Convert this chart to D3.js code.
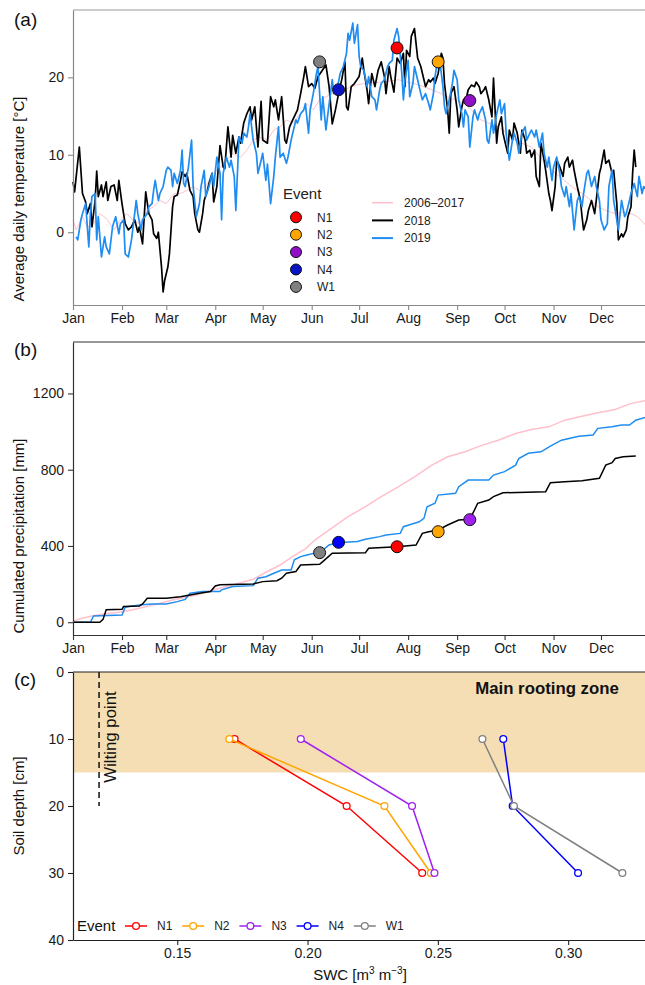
<!DOCTYPE html>
<html>
<head>
<meta charset="utf-8">
<script src="https://cdn.jsdelivr.net/npm/d3@7"></script>
<style>
  html, body { margin: 0; padding: 0; background: #fff; }
  #chart { width: 645px; height: 985px; }
</style>
</head>
<body>
<div id="chart"></div>
<script>
// --- Données ---
const monthStarts = [0, 31, 59, 90, 120, 151, 181, 212, 243, 273, 304, 334];
const monthLabels = ['Jan', 'Feb', 'Mar', 'Apr', 'May', 'Jun', 'Jul', 'Aug', 'Sep', 'Oct', 'Nov', 'Dec'];

// (a) température moyenne journalière [jour de l'année, °C]
const tempClim = [[0,1.6],[2,0.3],[6,2.0],[9,0.7],[13,1.1],[17,2.4],[21,1.8],[26,0.3],[30,1.6],[34,2.4],[38,1.6],[42,1.1],[47,2.8],[51,3.3],[55,4.1],[59,3.7],[64,5.0],[68,5.0],[72,5.4],[76,5.9],[80,5.4],[85,6.3],[89,7.6],[93,8.4],[97,9.3],[101,10.2],[106,9.7],[110,10.6],[114,11.9],[118,12.3],[123,11.9],[127,13.2],[131,13.6],[135,14.5],[139,14.1],[144,15.3],[148,16.6],[152,15.8],[156,17.1],[160,17.5],[164,17.9],[169,18.2],[174,18.6],[179,19.0],[184,19.2],[190,19.3],[195,19.4],[200,19.5],[206,19.7],[211,19.4],[216,19.2],[222,18.8],[227,18.4],[232,18.0],[237,17.5],[243,17.0],[248,16.6],[252,15.8],[258,14.5],[264,14.0],[269,13.6],[275,12.8],[280,11.9],[285,11.4],[290,11.0],[295,9.8],[301,8.4],[306,7.5],[311,6.7],[316,5.8],[322,5.0],[327,4.2],[332,3.3],[337,2.8],[343,2.4],[348,2.6],[353,2.4],[357,2.0],[361,1.2],[365,0.3]];

const temp2018 = [[0,6.5],[1,5.2],[4,11.0],[6,5.0],[8,3.9],[9,2.4],[11,3.7],[12,0.7],[14,4.1],[15,7.9],[16,4.6],[18,6.1],[19,4.6],[21,6.5],[22,4.1],[24,5.9],[26,6.1],[28,4.1],[29,6.7],[31,3.7],[33,1.1],[35,0.3],[37,0.7],[39,1.6],[41,0.0],[42,0.7],[44,-1.5],[46,5.2],[48,2.4],[50,1.6],[51,-0.2],[53,-0.8],[54,0.0],[56,-4.5],[57,-7.7],[58,-6.2],[60,-4.5],[61,-2.8],[63,3.3],[64,4.6],[66,4.8],[68,6.7],[69,7.8],[71,7.2],[72,7.6],[74,5.4],[76,4.6],[77,2.4],[79,0.3],[80,0.0],[82,2.4],[83,4.1],[85,5.4],[86,6.3],[88,7.6],[89,3.9],[91,5.9],[93,11.2],[95,8.4],[96,8.2],[98,13.6],[100,9.7],[101,12.5],[103,10.2],[105,12.3],[106,11.5],[108,14.1],[110,15.3],[112,16.2],[113,14.5],[115,16.2],[117,11.0],[119,16.9],[120,11.9],[123,11.5],[125,17.5],[127,16.2],[128,17.1],[130,14.5],[132,17.5],[134,11.9],[135,11.5],[137,13.6],[139,14.5],[142,15.8],[144,17.9],[146,20.1],[147,21.4],[149,18.8],[151,19.2],[153,18.6],[155,20.1],[157,20.7],[160,21.6],[162,18.8],[164,14.0],[166,15.8],[168,17.9],[170,19.7],[172,22.0],[173,16.2],[174,15.8],[176,18.8],[178,19.2],[181,20.1],[183,22.5],[184,20.9],[186,18.4],[187,16.6],[189,20.5],[191,18.8],[193,20.9],[195,22.0],[197,20.1],[198,17.9],[200,21.4],[201,20.1],[203,18.1],[205,22.5],[207,21.8],[209,23.1],[210,18.8],[211,23.5],[213,22.7],[214,25.3],[216,26.3],[217,24.4],[218,22.5],[220,21.4],[222,19.7],[223,18.8],[225,19.7],[226,19.4],[228,19.9],[229,19.2],[231,20.5],[233,23.1],[234,22.5],[235,19.2],[237,15.8],[238,12.8],[239,17.9],[241,18.8],[243,15.8],[244,13.6],[246,16.2],[247,17.1],[249,17.5],[250,18.4],[252,19.0],[254,18.8],[255,19.4],[257,18.8],[258,17.9],[260,18.4],[261,18.8],[263,17.1],[265,14.9],[266,19.9],[267,15.8],[268,11.5],[269,13.6],[271,14.9],[272,12.8],[273,11.9],[275,10.2],[276,13.2],[278,11.9],[279,14.1],[281,12.8],[283,10.2],[284,13.2],[286,11.9],[287,10.2],[289,10.6],[290,9.7],[292,10.6],[293,7.2],[295,5.9],[296,11.5],[298,9.3],[299,8.0],[301,5.0],[302,4.1],[303,2.8],[305,5.9],[306,9.3],[308,8.4],[310,7.2],[311,8.9],[313,9.7],[314,8.4],[316,9.3],[317,8.0],[319,5.9],[321,4.1],[322,2.0],[323,0.3],[325,1.6],[326,2.8],[328,4.1],[330,2.4],[331,4.1],[333,7.6],[334,8.4],[336,10.6],[337,8.9],[339,9.3],[341,7.6],[342,8.0],[344,3.7],[345,-1.0],[347,-0.2],[348,-0.6],[350,0.3],[351,2.0],[353,3.3],[354,7.6],[355,10.6],[356,8.4]];

const temp2019 = [[2,-0.6],[3,-1.0],[5,1.6],[6,2.4],[8,3.7],[10,-1.9],[11,2.4],[12,4.6],[14,5.0],[15,-1.0],[16,2.0],[18,-3.2],[20,-0.6],[21,-1.9],[23,-2.8],[25,0.7],[27,2.0],[29,-0.2],[30,1.1],[32,1.6],[33,-2.8],[35,-3.2],[37,-1.0],[38,0.7],[40,4.1],[41,2.4],[43,0.3],[44,1.6],[47,2.4],[48,3.3],[50,3.7],[51,5.4],[52,6.7],[54,4.1],[55,5.0],[57,5.9],[59,8.0],[60,8.4],[62,8.0],[63,5.9],[64,7.6],[66,6.3],[68,8.0],[69,10.6],[70,6.3],[71,5.9],[73,8.4],[75,11.9],[76,5.9],[78,2.0],[80,3.7],[81,5.9],[83,8.0],[84,4.6],[86,5.9],[88,7.6],[89,5.9],[91,9.7],[93,7.6],[94,1.6],[95,7.6],[97,9.7],[99,8.4],[100,9.3],[102,7.2],[103,2.8],[105,12.3],[107,11.5],[108,12.8],[110,12.3],[111,13.6],[112,15.3],[114,11.9],[116,10.2],[117,7.6],[119,9.3],[120,10.2],[122,6.7],[123,8.8],[125,3.7],[127,7.2],[128,9.7],[130,13.6],[131,9.7],[133,10.2],[135,8.9],[136,9.7],[138,11.9],[139,12.8],[141,14.5],[142,14.1],[144,15.3],[146,15.8],[147,16.6],[149,12.8],[150,15.8],[152,17.9],[154,20.5],[155,21.4],[157,14.5],[158,17.5],[160,13.2],[161,14.9],[164,19.7],[165,17.9],[167,18.4],[169,20.5],[171,21.4],[173,23.1],[174,25.7],[175,24.8],[177,27.0],[178,24.4],[180,26.8],[181,22.7],[182,21.4],[184,20.9],[186,18.8],[187,20.1],[189,17.5],[191,17.1],[192,15.8],[194,18.4],[195,19.2],[197,19.7],[199,21.4],[200,21.8],[202,22.2],[203,24.8],[205,26.3],[206,25.3],[208,20.5],[209,17.1],[210,19.7],[212,22.2],[213,17.5],[215,19.2],[216,21.4],[218,19.7],[220,17.9],[221,17.1],[223,17.9],[225,16.6],[226,15.8],[228,17.9],[229,20.1],[230,21.4],[232,22.2],[234,18.8],[235,16.2],[236,15.3],[238,17.1],[240,19.2],[241,20.9],[243,19.7],[244,17.1],[246,15.3],[247,13.6],[248,15.8],[250,14.9],[251,11.0],[253,14.9],[254,15.8],[256,14.5],[257,15.3],[259,16.2],[261,14.5],[262,11.9],[263,11.5],[265,14.5],[266,12.8],[268,15.3],[270,17.1],[271,15.3],[273,16.6],[274,12.8],[276,9.3],[278,11.9],[279,12.8],[281,11.5],[282,10.2],[284,12.8],[286,13.6],[287,11.9],[289,12.8],[290,13.2],[292,12.3],[293,13.2],[295,11.0],[297,12.8],[298,10.2],[300,8.4],[301,9.7],[303,6.7],[304,8.4],[306,9.7],[308,7.6],[309,5.9],[311,4.6],[312,5.9],[314,3.3],[315,5.0],[317,0.3],[319,4.1],[320,4.6],[322,3.3],[323,5.0],[325,7.6],[326,8.0],[328,5.9],[330,7.2],[331,5.9],[333,4.1],[334,1.6],[336,0.3],[338,1.1],[339,5.9],[341,8.0],[342,4.1],[344,1.6],[345,0.3],[347,4.1],[349,2.0],[350,2.4],[352,4.1],[353,5.0],[355,6.3],[357,4.6],[358,7.2],[360,5.0],[361,5.9],[363,5.4],[365,3.5]];

// (b) précipitations cumulées [jour, mm]
const precipClim = [[0,5],[5,20],[12,33],[20,45],[27,50],[38,65],[51,91],[63,117],[78,143],[89,170],[101,196],[114,225],[122,262],[131,300],[139,345],[147,385],[153,431],[163,490],[174,554],[185,606],[195,659],[206,711],[216,763],[227,824],[237,868],[248,894],[259,929],[269,955],[280,990],[290,1011],[301,1025],[311,1060],[322,1081],[332,1099],[343,1116],[353,1148],[362,1162],[365,1166]];

const precip2018 = [[0,0],[17,0],[19,15],[21,65],[31,68],[32,82],[42,85],[44,96],[47,126],[59,126],[68,134],[74,143],[80,152],[87,161],[90,190],[93,196],[114,201],[120,213],[129,218],[132,231],[135,257],[141,266],[144,300],[156,304],[158,318],[161,340],[164,362],[185,365],[187,388],[205,396],[217,405],[221,466],[225,475],[231,484],[237,510],[244,536],[251,540],[254,589],[256,624],[263,641],[266,659],[272,679],[299,685],[302,732],[311,737],[322,742],[333,755],[337,824],[341,837],[343,859],[348,868],[356,872]];

const precip2019 = [[0,0],[11,0],[13,33],[31,38],[33,79],[42,91],[50,96],[59,96],[66,108],[71,120],[74,152],[82,161],[93,161],[94,170],[101,187],[114,192],[117,231],[122,239],[127,257],[132,274],[138,274],[140,327],[144,344],[148,353],[154,365],[158,379],[162,405],[167,417],[180,424],[185,435],[194,449],[198,458],[207,466],[209,501],[214,514],[219,527],[222,545],[224,606],[229,624],[231,667],[242,676],[244,711],[250,746],[263,746],[266,772],[273,790],[280,824],[282,859],[288,886],[296,894],[302,924],[309,955],[320,976],[329,982],[332,1017],[341,1025],[347,1034],[352,1034],[356,1060],[362,1074],[365,1078]];

// Événements
const eventNames = ['N1', 'N2', 'N3', 'N4', 'W1'];
const eventDays = [205, 231, 251, 168, 156];
const eventTemp = [23.8, 22.0, 17.0, 18.4, 22.0];
const eventPrecip = [396, 475, 538, 419, 365];

// (c) profils d'humidité du sol
const swcDepths = [10, 20, 30];
const swcN1 = [0.172, 0.215, 0.244];
const swcN2 = [0.170, 0.2295, 0.2473];
const swcN3 = [0.1974, 0.2401, 0.2487];
const swcN4 = [0.2751, 0.2787, 0.3038];
const swcW1 = [0.2671, 0.2792, 0.3208];
const wiltingPoint = 0.12;
const rootingZone = 15;

const seriesNames = ['2006–2017', '2018', '2019'];

// --- Styles ---
const FONT = '"Liberation Sans", Arial, sans-serif';
const eventColorsTop = ['#ff0000', '#ffa500', '#9010c8', '#0a14c4', '#808080'];
const eventColors = ['#ff0000', '#ffa500', '#a020f0', '#0000ff', '#808080'];
const seriesColors = ['#ffc0cb', '#000000', '#1e8cf0'];

const W = 645, H = 985;
const xLeft = 73, xRight = 650;

const svg = d3.select('#chart').append('svg')
    .attr('width', W)
    .attr('height', H)
    .style('font-family', FONT);

const x = d3.scaleLinear().domain([0, 365]).range([xLeft, xRight]);

function monthAxis(g, y0, color) {
    g.attr('transform', `translate(0,${y0})`)
        .call(d3.axisBottom(x).tickValues(monthStarts)
            .tickFormat((d, i) => monthLabels[i])
            .tickSize(5).tickPadding(3).tickSizeOuter(0));
    styleAxis(g, color);
}

function styleAxis(g, color) {
    g.select('.domain').attr('stroke', color).attr('stroke-width', 1.2);
    g.selectAll('.tick line').attr('stroke', color).attr('stroke-width', 1.1);
    g.selectAll('.tick text').attr('fill', '#1a1a1a').style('font-size', '14px').style('font-family', FONT);
}

function panelLabel(txt, y) {
    svg.append('text').attr('x', 14).attr('y', y)
        .style('font-size', '19px').attr('fill', '#111').text(txt);
}

function yTitle(txt, cy) {
    svg.append('text')
        .attr('transform', `translate(24,${cy}) rotate(-90)`)
        .attr('text-anchor', 'middle')
        .style('font-size', '15px').attr('fill', '#111')
        .text(txt);
}

// ================= (a) Température =================
const aTop = 10, aBot = 305;
const yA = d3.scaleLinear().domain([-9.4, 28.7]).range([aBot, aTop]);
const lineA = d3.line().x(d => x(d[0])).y(d => yA(d[1]));

svg.append('line').attr('x1', xLeft).attr('x2', xRight).attr('y1', aTop).attr('y2', aTop)
    .attr('stroke', '#999').attr('stroke-width', 1.2);

[tempClim, temp2018, temp2019].forEach((s, i) => {
    svg.append('path').datum(s)
        .attr('fill', 'none')
        .attr('stroke', seriesColors[i])
        .attr('stroke-width', i === 0 ? 1 : 1.7)
        .attr('stroke-linejoin', 'round')
        .attr('d', lineA);
});

svg.append('g').call(g => monthAxis(g, aBot, '#888'));
svg.append('g').attr('transform', `translate(${xLeft},0)`)
    .call(d3.axisLeft(yA).tickValues([0, 10, 20]).tickSize(5).tickPadding(4).tickSizeOuter(0))
    .call(g => styleAxis(g, '#888'));

svg.selectAll('.evA').data(eventNames).join('circle')
    .attr('cx', (d, i) => x(eventDays[i]))
    .attr('cy', (d, i) => yA(eventTemp[i]))
    .attr('r', 6)
    .attr('fill', (d, i) => eventColorsTop[i])
    .attr('stroke', '#111').attr('stroke-width', 1);

// Légende événements
svg.append('text').attr('x', 283).attr('y', 199).style('font-size', '15px').attr('fill', '#222').text('Event');
const legA = svg.append('g');
eventNames.forEach((n, i) => {
    const cy = 217.3 + i * 17.4;
    legA.append('circle').attr('cx', 296).attr('cy', cy).attr('r', 5.5)
        .attr('fill', eventColorsTop[i]).attr('stroke', '#111').attr('stroke-width', 1);
    legA.append('text').attr('x', 317).attr('y', cy + 4.3)
        .style('font-size', '12px').attr('fill', '#222').text(n);
});

// Légende séries
seriesNames.forEach((n, i) => {
    const cy = 202.7 + i * 17.7;
    legA.append('line').attr('x1', 372).attr('x2', 393).attr('y1', cy).attr('y2', cy)
        .attr('stroke', seriesColors[i]).attr('stroke-width', i === 0 ? 1.6 : 2);
    legA.append('text').attr('x', 404).attr('y', cy + 4.3)
        .style('font-size', '12px').attr('fill', '#222').text(n);
});

panelLabel('(a)', 26);
yTitle('Average daily temperature [°C]', 199);

// ================= (b) Précipitations =================
const bTop = 342, bBot = 635;
const yB = d3.scaleLinear().domain([-67, 1470]).range([bBot, bTop]);
const lineB = d3.line().x(d => x(d[0])).y(d => yB(d[1]));

svg.append('line').attr('x1', xLeft).attr('x2', xRight).attr('y1', bTop).attr('y2', bTop)
    .attr('stroke', '#333').attr('stroke-width', 1.2);

[[precipClim, 0], [precip2019, 2], [precip2018, 1]].forEach(([s, i]) => {
    svg.append('path').datum(s)
        .attr('fill', 'none')
        .attr('stroke', seriesColors[i])
        .attr('stroke-width', 1.5)
        .attr('d', lineB);
});

svg.append('g').call(g => monthAxis(g, bBot, '#333'));
svg.append('g').attr('transform', `translate(${xLeft},0)`)
    .call(d3.axisLeft(yB).tickValues([0, 400, 800, 1200]).tickFormat(d3.format('d'))
        .tickSize(5).tickPadding(4).tickSizeOuter(0))
    .call(g => styleAxis(g, '#333'));

svg.selectAll('.evB').data(eventNames).join('circle')
    .attr('cx', (d, i) => x(eventDays[i]))
    .attr('cy', (d, i) => yB(eventPrecip[i]))
    .attr('r', 6)
    .attr('fill', (d, i) => eventColors[i])
    .attr('stroke', '#111').attr('stroke-width', 1);

panelLabel('(b)', 356);
yTitle('Cumulated precipitation [mm]', 536);

// ================= (c) Profils SWC =================
const cTop = 672, cBot = 940;
const xC = d3.scaleLinear().domain([0.11, 0.3314]).range([xLeft, xRight]);
const yC = d3.scaleLinear().domain([0, 40]).range([cTop, cBot]);

svg.append('rect')
    .attr('x', xLeft).attr('y', yC(0))
    .attr('width', xRight - xLeft).attr('height', yC(rootingZone) - yC(0))
    .attr('fill', '#f5deb3');

svg.append('text')
    .attr('x', 547).attr('y', 694)
    .attr('text-anchor', 'middle')
    .style('font-size', '16.8px').style('font-weight', '700').attr('fill', '#111')
    .text('Main rooting zone');

svg.append('line')
    .attr('x1', xC(wiltingPoint)).attr('x2', xC(wiltingPoint))
    .attr('y1', yC(0)).attr('y2', yC(20))
    .attr('stroke', '#111').attr('stroke-width', 1.5)
    .attr('stroke-dasharray', '6,4');

svg.append('text')
    .attr('transform', `translate(${xC(wiltingPoint) + 17},737) rotate(-90)`)
    .attr('text-anchor', 'middle')
    .style('font-size', '16.8px').attr('fill', '#111')
    .text('Wilting point');

svg.append('line').attr('x1', xLeft).attr('x2', xRight).attr('y1', cTop).attr('y2', cTop)
    .attr('stroke', '#222').attr('stroke-width', 1.2);

const profiles = [swcN1, swcN2, swcN3, swcN4, swcW1];
const lineC = d3.line().x(d => xC(d[0])).y(d => yC(d[1]));

profiles.forEach((p, i) => {
    const pts = p.map((v, j) => [v, swcDepths[j]]);
    svg.append('path').datum(pts)
        .attr('fill', 'none').attr('stroke', eventColors[i]).attr('stroke-width', 1.5)
        .attr('d', lineC);
    svg.append('g').selectAll('circle').data(pts).join('circle')
        .attr('cx', d => xC(d[0])).attr('cy', d => yC(d[1]))
        .attr('r', 3.4).attr('fill', '#fff')
        .attr('stroke', eventColors[i]).attr('stroke-width', 1.3);
});

svg.append('g').attr('transform', `translate(0,${cBot})`)
    .call(d3.axisBottom(xC).tickValues([0.15, 0.20, 0.25, 0.30]).tickFormat(d3.format('.2f'))
        .tickSize(5).tickPadding(3).tickSizeOuter(0))
    .call(g => styleAxis(g, '#222'));
svg.append('g').attr('transform', `translate(${xLeft},0)`)
    .call(d3.axisLeft(yC).tickValues([0, 10, 20, 30, 40]).tickSize(5).tickPadding(4).tickSizeOuter(0))
    .call(g => styleAxis(g, '#222'));

// Légende (c)
const legC = svg.append('g');
legC.append('text').attr('x', 77).attr('y', 931).style('font-size', '15px').attr('fill', '#111').text('Event');
eventNames.forEach((n, i) => {
    const x0 = 125 + i * 57.2;
    legC.append('line').attr('x1', x0).attr('x2', x0 + 22).attr('y1', 926).attr('y2', 926)
        .attr('stroke', eventColors[i]).attr('stroke-width', 1.5);
    legC.append('circle').attr('cx', x0 + 11).attr('cy', 926).attr('r', 3.4)
        .attr('fill', '#fff').attr('stroke', eventColors[i]).attr('stroke-width', 1.3);
    legC.append('text').attr('x', x0 + 32).attr('y', 930.2)
        .style('font-size', '12px').attr('fill', '#222').text(n);
});

// Titre de l'axe x avec exposants
const swcTitle = svg.append('text')
    .attr('x', 360).attr('y', 980)
    .attr('text-anchor', 'middle')
    .style('font-size', '15px').attr('fill', '#111');
swcTitle.append('tspan').text('SWC [m');
swcTitle.append('tspan').attr('dy', -6).style('font-size', '10px').text('3');
swcTitle.append('tspan').attr('dy', 6).text(' m');
swcTitle.append('tspan').attr('dy', -6).style('font-size', '10px').text('−3');
swcTitle.append('tspan').attr('dy', 6).text(']');

panelLabel('(c)', 686);
yTitle('Soil depth [cm]', 806);
</script>
</body>
</html>
